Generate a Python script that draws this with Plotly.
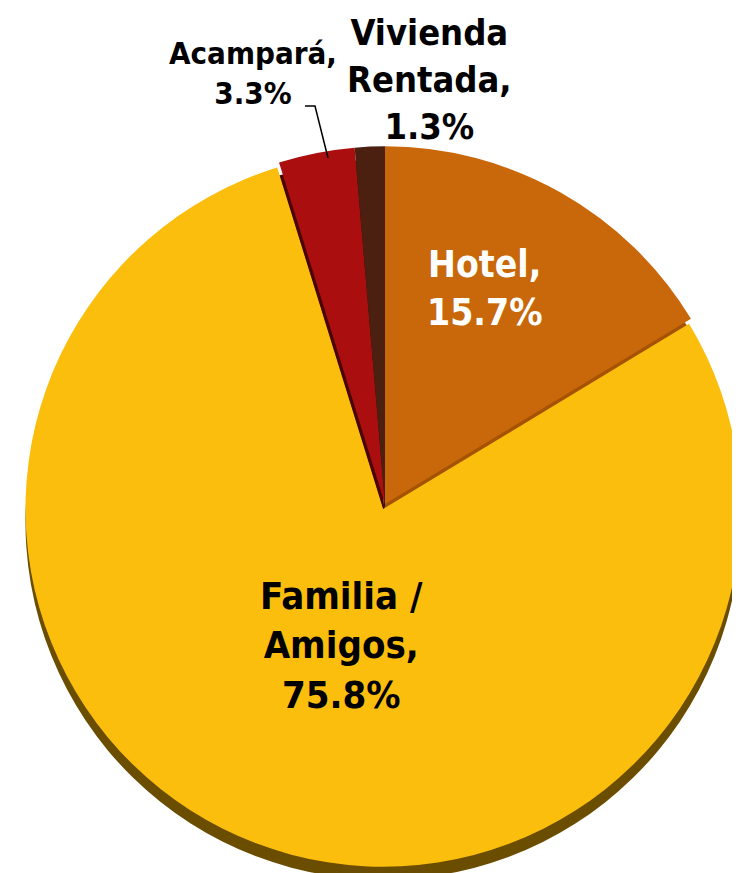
import plotly.graph_objects as go

# Data
labels = ["Hotel", "Familia / Amigos", "Acampará", "Vivienda Rentada"]
values = [15.7, 75.8, 3.3, 1.3]
display_labels = ["Hotel,", "Familia /<br>Amigos,", "Acampará,", "Vivienda<br>Rentada,"]

top_colors = ["#C8680A", "#FBBE0C", "#AB0E0E", "#4B2010"]
side_colors = ["#A55300", "#6B4D00", "#4A0406", "#2A0F06"]
pulls = [0, 0.015, 0, 0]

W, H = 740, 873

def px(x):
    return x / W

def py(y):
    return 1 - y / H

fig = go.Figure()

# side (thickness) layer, shifted down
fig.add_trace(go.Pie(
    labels=labels, values=values, sort=False, direction="clockwise", rotation=0,
    marker=dict(colors=side_colors, line=dict(width=0)),
    pull=pulls, textinfo="none", hoverinfo="skip",
    domain=dict(x=[14 / W, 1.0], y=[1 / H, 727 / H]),
))

# top face
fig.add_trace(go.Pie(
    labels=labels, values=values, sort=False, direction="clockwise", rotation=0,
    marker=dict(colors=top_colors, line=dict(width=0)),
    pull=pulls, textinfo="none",
    domain=dict(x=[14 / W, 1.0], y=[14 / H, 740 / H]),
))

fnt = "DejaVu Sans Condensed, DejaVu Sans, sans-serif"

label_pos = [(476, 280), (333, 637), (245, 65), (422, 71)]
label_sizes = [37, 38, 31, 36]
label_colors = ["white", "black", "black", "black"]

for lab, v, (x, y), s, c in zip(display_labels, values, label_pos, label_sizes, label_colors):
    fig.add_annotation(
        x=px(x), y=py(y), xref="paper", yref="paper",
        text=f"<b>{lab}<br>{v:.1f}%</b>", showarrow=False,
        font=dict(family=fnt, size=s, color=c), align="center",
        xanchor="center", yanchor="middle",
    )

# leader line for Acampará
fig.add_shape(
    type="path", xref="paper", yref="paper",
    path=f"M {px(297)} {py(98)} L {px(307)} {py(98)} L {px(320)} {py(150)}",
    line=dict(color="black", width=1.5),
)

fig.update_layout(
    width=W, height=H, margin=dict(l=0, r=0, t=0, b=0),
    showlegend=False, paper_bgcolor="white", plot_bgcolor="white",
)

fig.write_html("out.html")
